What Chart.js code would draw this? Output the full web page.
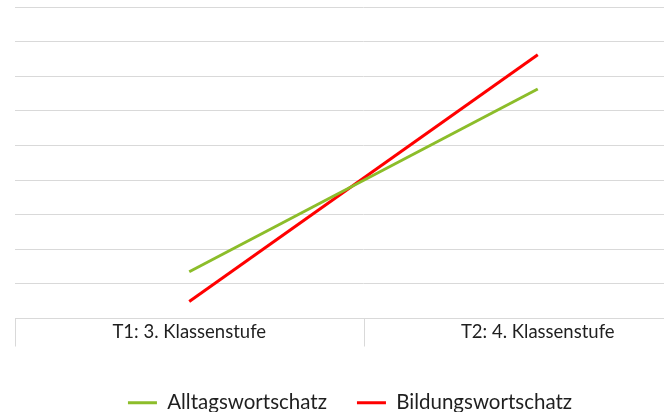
<!DOCTYPE html>
<html>
<head>
<meta charset="utf-8">
<script src="https://cdn.jsdelivr.net/npm/chart.js@4.4.0/dist/chart.umd.min.js"></script>
<style>
  html, body { margin: 0; padding: 0; background: #fff; overflow: hidden; }
  #wrap { width: 720px; height: 412px; }
</style>
</head>
<body>
<div id="wrap"><canvas id="myChart"></canvas></div>
<script>
// Werte (Skala ohne Beschriftung)
const categories = ['T1: 3. Klassenstufe', 'T2: 4. Klassenstufe'];
const alltagswortschatz = [1.35, 6.63];
const bildungswortschatz = [0.49, 7.62];

// Trennstriche zwischen den Kategorien unterhalb der Achse
const categoryDividers = {
    id: 'categoryDividers',
    afterDraw(chart) {
        const x = chart.scales.x;
        const ctx = chart.ctx;
        const n = x.ticks.length;
        const half = n > 1 ? (x.getPixelForTick(1) - x.getPixelForTick(0)) / 2 : x.width / 2;
        ctx.save();
        ctx.strokeStyle = '#d9d9d9';
        ctx.lineWidth = 1;
        for (let i = 0; i <= n; i++) {
            const px = Math.round(i < n ? x.getPixelForTick(i) - half : x.getPixelForTick(n - 1) + half) + 0.5;
            ctx.beginPath();
            ctx.moveTo(px, x.top);
            ctx.lineTo(px, x.top + 28);
            ctx.stroke();
        }
        ctx.restore();
    }
};

const data = {
    labels: categories,
    datasets: [{
        label: 'Alltagswortschatz',
        data: alltagswortschatz,
        borderColor: '#8cbd2a',
        backgroundColor: '#8cbd2a',
        borderWidth: 3,
        pointRadius: 0,
        pointStyle: 'line'
    }, {
        label: 'Bildungswortschatz',
        data: bildungswortschatz,
        borderColor: '#ff0000',
        backgroundColor: '#ff0000',
        borderWidth: 3,
        pointRadius: 0,
        pointStyle: 'line'
    }]
};

const config = {
    type: 'line',
    data: data,
    options: {
        responsive: true,
        maintainAspectRatio: false,
        animation: false,
        layout: { padding: { top: 7, right: 8, bottom: -11, left: -12 } },
        plugins: {
            tooltip: { enabled: false },
            legend: {
                position: 'bottom',
                labels: {
                    usePointStyle: true,
                    pointStyleWidth: 29,
                    boxWidth: 29,
                    boxHeight: 3,
                    padding: 30,
                    color: '#1f1f1f',
                    font: { family: 'Lato', size: 20.5 }
                }
            }
        },
        scales: {
            x: {
                offset: true,
                afterFit: function(scale) { scale.height = 44; },
                grid: {
                    offset: true,
                    drawOnChartArea: false,
                    drawTicks: false,
                    color: '#d9d9d9'
                },
                border: { color: '#d9d9d9' },
                ticks: {
                    padding: 2,
                    color: '#1f1f1f',
                    font: { family: 'Lato', size: 18.5 }
                }
            },
            y: {
                min: 0,
                max: 9,
                afterFit: function(scale) { scale.width = 27; },
                ticks: { display: false, stepSize: 1 },
                grid: { drawTicks: false, color: '#d9d9d9' },
                border: { display: false }
            }
        }
    },
    plugins: [categoryDividers]
};

const ctx = document.getElementById('myChart').getContext('2d');
const myChart = new Chart(ctx, config);
</script>
</body>
</html>
